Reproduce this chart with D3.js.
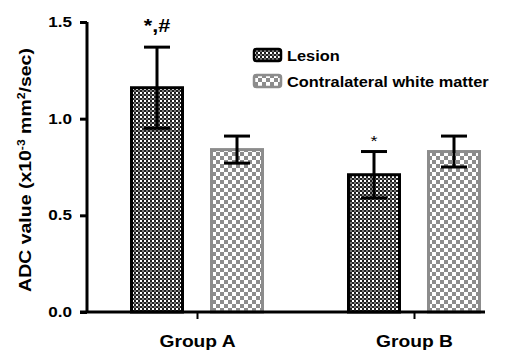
<!DOCTYPE html>
<html>
<head>
<meta charset="utf-8">
<script src="https://cdn.jsdelivr.net/npm/d3@7"></script>
<style>
  body { margin: 0; background: #fff; }
  text { font-family: "Liberation Sans", Arial, sans-serif; font-weight: bold; }
</style>
</head>
<body>
<div id="chart"></div>
<script>
// data
var groups = ["Group A", "Group B"];
var series = ["Lesion", "Contralateral white matter"];
var lesionMean = [1.16, 0.71];
var lesionSD = [0.21, 0.12];
var cwmMean = [0.84, 0.83];
var cwmSD = [0.07, 0.08];
var yTicks = [0.0, 0.5, 1.0, 1.5];
var marks = ["*,#", "*"];

var width = 512, height = 352;

var svg = d3.select("#chart")
  .append("svg")
    .attr("width", width)
    .attr("height", height);

// the original text is a bit wider than Arial, stretch it
function stretch(sel, k) {
  sel.each(function() {
    var w = this.getComputedTextLength();
    d3.select(this).attr("textLength", w * k).attr("lengthAdjust", "spacingAndGlyphs");
  });
}

var defs = svg.append("defs");

// fine checker for lesion
var p1 = defs.append("pattern")
    .attr("id", "pLesion")
    .attr("patternUnits", "userSpaceOnUse")
    .attr("width", 4).attr("height", 4);
p1.append("rect").attr("width", 4).attr("height", 4).attr("fill", "#1e1e1e");
p1.append("rect").attr("width", 2).attr("height", 2).attr("fill", "#fff");
p1.append("rect").attr("x", 2).attr("y", 2).attr("width", 2).attr("height", 2).attr("fill", "#777");

// coarse gray checker
var p2 = defs.append("pattern")
    .attr("id", "pCwm")
    .attr("patternUnits", "userSpaceOnUse")
    .attr("width", 8).attr("height", 8);
p2.append("rect").attr("width", 8).attr("height", 8).attr("fill", "#fff");
p2.append("rect").attr("width", 4).attr("height", 4).attr("fill", "#8c8c8c");
p2.append("rect").attr("x", 4).attr("y", 4).attr("width", 4).attr("height", 4).attr("fill", "#8c8c8c");

var style = {
  "Lesion": { fill: "url(#pLesion)", stroke: "#000" },
  "Contralateral white matter": { fill: "url(#pCwm)", stroke: "#8c8c8c" }
};

var y = d3.scaleLinear().domain([0, 1.5]).range([312, 22]);
var x = d3.scalePoint().domain(groups).range([197, 414]);
var xSub = d3.scaleBand().domain(series).range([-67, 67]).paddingInner(0.325);

// table for drawing
var rows = [];
groups.forEach(function(g, i) {
  rows.push({ group: g, key: series[0], mean: lesionMean[i], sd: lesionSD[i], mark: marks[i] });
  rows.push({ group: g, key: series[1], mean: cwmMean[i], sd: cwmSD[i], mark: null });
});

function cx(d) { return x(d.group) + xSub(d.key) + xSub.bandwidth() / 2; }

// bars
svg.append("g")
  .selectAll("rect")
  .data(rows)
  .enter()
  .append("rect")
    .attr("x", function(d) { return x(d.group) + xSub(d.key) + 1.5; })
    .attr("y", function(d) { return y(d.mean); })
    .attr("width", xSub.bandwidth() - 3)
    .attr("height", function(d) { return y(0) - y(d.mean); })
    .attr("fill", function(d) { return style[d.key].fill; })
    .attr("stroke", function(d) { return style[d.key].stroke; })
    .attr("stroke-width", 3);

// error bars
var eb = svg.append("g")
  .attr("stroke", "#000")
  .attr("stroke-width", 3)
  .selectAll("g")
  .data(rows)
  .enter()
  .append("g");
eb.append("line")
  .attr("x1", cx).attr("x2", cx)
  .attr("y1", function(d) { return y(d.mean + d.sd); })
  .attr("y2", function(d) { return y(d.mean - d.sd); });
eb.append("line")
  .attr("x1", function(d) { return cx(d) - 13; })
  .attr("x2", function(d) { return cx(d) + 13; })
  .attr("y1", function(d) { return y(d.mean + d.sd); })
  .attr("y2", function(d) { return y(d.mean + d.sd); });
eb.append("line")
  .attr("x1", function(d) { return cx(d) - 13; })
  .attr("x2", function(d) { return cx(d) + 13; })
  .attr("y1", function(d) { return y(d.mean - d.sd); })
  .attr("y2", function(d) { return y(d.mean - d.sd); });

// significance marks
var sig = svg.append("g")
  .selectAll("text")
  .data(rows.filter(function(d) { return d.mark; }))
  .enter()
  .append("text")
    .attr("x", cx)
    .attr("y", function(d) { return y(d.mean + d.sd) - (d.mark.length > 1 ? 15 : 6); })
    .attr("text-anchor", "middle")
    .style("font-size", function(d) { return d.mark.length > 1 ? "18px" : "15px"; })
    .style("font-weight", function(d) { return d.mark.length > 1 ? "bold" : "normal"; })
    .text(function(d) { return d.mark; });
stretch(sig, 1.2);

// y axis
var yAxis = svg.append("g")
  .attr("transform", "translate(87,0)")
  .call(d3.axisLeft(y).tickValues(yTicks).tickFormat(d3.format(".1f")).tickSize(7).tickPadding(8));
yAxis.select(".domain").attr("stroke-width", 3).attr("d", "M0," + y(1.5) + "V" + y(0));
yAxis.selectAll(".tick line").attr("stroke-width", 3);
yAxis.selectAll(".tick text").style("font-size", "14px").attr("fill", "#000");
stretch(yAxis.selectAll(".tick text"), 1.22);

// x axis
var xAxis = svg.append("g")
  .attr("transform", "translate(0," + y(0) + ")")
  .call(d3.axisBottom(x).tickSize(7).tickPadding(17));
xAxis.select(".domain").attr("stroke-width", 3).attr("d", "M80,0H485");
xAxis.selectAll(".tick line").attr("stroke-width", 2);
xAxis.selectAll(".tick text").style("font-size", "16px").attr("fill", "#000");
stretch(xAxis.selectAll(".tick text"), 1.2);

// y label
var yl = svg.append("text")
  .attr("text-anchor", "middle")
  .style("font-size", "16px");
yl.append("tspan").text("ADC value (x10");
yl.append("tspan").attr("dy", -6).style("font-size", "10px").text("-3");
yl.append("tspan").attr("dy", 6).text(" mm");
yl.append("tspan").attr("dy", -6).style("font-size", "10px").text("2");
yl.append("tspan").attr("dy", 6).text("/sec)");
var ylw = yl.node().getBBox().width;
yl.attr("transform", "translate(31,170) rotate(-90) scale(" + (244 / ylw) + ",1)");

// legend
var lg = svg.append("g")
  .selectAll("g")
  .data(series)
  .enter()
  .append("g")
    .attr("transform", function(d, i) { return "translate(254," + (48 + i * 26) + ")"; });
lg.append("rect")
  .attr("y", 1)
  .attr("width", 27).attr("height", 12)
  .attr("rx", 2.5)
  .attr("fill", function(d) { return style[d].fill; })
  .attr("stroke", function(d) { return style[d].stroke; })
  .attr("stroke-width", 2.5);
var lt = lg.append("text")
  .attr("x", 33).attr("y", 13)
  .style("font-size", "15px")
  .text(function(d) { return d; });
stretch(lt, 1.09);
</script>
</body>
</html>
